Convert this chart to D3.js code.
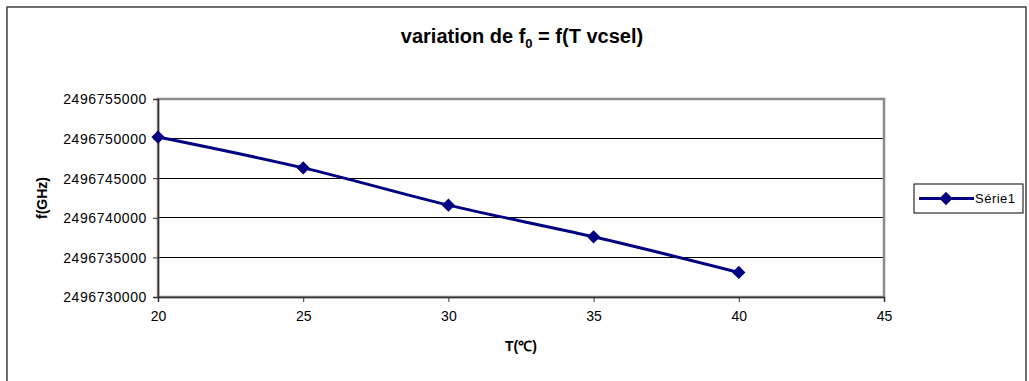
<!DOCTYPE html>
<html><head><meta charset="utf-8">
<script src="https://cdn.jsdelivr.net/npm/d3@7"></script>
<style>body{margin:0;background:#fff}svg{display:block;font-family:"Liberation Sans",Arial,sans-serif}</style>
</head><body>
<svg id="c" width="1029" height="381"></svg>
<script>
const temps = [20, 25, 30, 35, 40];
const freqs = [2496750200, 2496746300, 2496741600, 2496737600, 2496733100];
const xTicks = [20, 25, 30, 35, 40, 45];
const yTicks = [2496730000, 2496735000, 2496740000, 2496745000, 2496750000, 2496755000];
const seriesName = "Série1";

const svg = d3.select("#c");
const m = {left: 158, right: 884, top: 99, bottom: 297};
const navy = "#000080";

// outer frame
svg.append("rect").attr("x", 7).attr("y", 7).attr("width", 1019).attr("height", 380)
  .attr("fill", "#fff").attr("stroke", "#404040").attr("stroke-width", 1.5);

const x = d3.scaleLinear().domain([20, 45]).range([m.left, m.right]);
const y = d3.scaleLinear().domain([2496730000, 2496755000]).range([m.bottom, m.top]);

// gridlines
svg.append("g").selectAll("line").data(yTicks.slice(1, -1)).join("line")
  .attr("x1", m.left).attr("x2", m.right)
  .attr("y1", d => y(d)).attr("y2", d => y(d))
  .attr("stroke", "#000").attr("stroke-width", 1).attr("shape-rendering", "crispEdges");

// plot border (grey)
svg.append("rect").attr("x", m.left).attr("y", m.top)
  .attr("width", m.right - m.left).attr("height", m.bottom - m.top)
  .attr("fill", "none").attr("stroke", "#8c8c8c").attr("stroke-width", 2.5);

// axes
const yAxis = d3.axisLeft(y).tickValues(yTicks).tickSize(5).tickPadding(6).tickFormat(d3.format("d"));
const gy = svg.append("g").attr("transform", `translate(${m.left},0)`).call(yAxis);
const xAxis = d3.axisBottom(x).tickValues(xTicks).tickSize(5).tickPadding(9).tickFormat(d3.format("d"));
const gx = svg.append("g").attr("transform", `translate(0,${m.bottom})`).call(xAxis);
[gy, gx].forEach(g => {
  g.select(".domain").attr("stroke", "#333").attr("stroke-width", 1.5);
  g.selectAll(".tick line").attr("stroke", "#333");
  g.selectAll("text").attr("fill", "#000").attr("font-size", 14)
    .attr("font-family", "'Liberation Sans', Arial, sans-serif");
});
gy.selectAll("text").attr("letter-spacing", 0.6).attr("dy", "0.35em");

// line
const pts = temps.map((t, i) => [t, freqs[i]]);
svg.append("path").datum(pts)
  .attr("d", d3.line().x(d => x(d[0])).y(d => y(d[1])).curve(d3.curveCatmullRom))
  .attr("fill", "none").attr("stroke", navy).attr("stroke-width", 3);

const diamond = d3.symbol().type(d3.symbolSquare).size(88);
svg.append("g").selectAll("path").data(pts).join("path")
  .attr("d", diamond)
  .attr("transform", d => `translate(${x(d[0])},${y(d[1])}) rotate(45)`)
  .attr("fill", navy);

// title
const title = svg.append("text").attr("x", 522).attr("y", 43).attr("text-anchor", "middle")
  .attr("font-size", 20).attr("font-weight", "bold");
title.append("tspan").text("variation de f");
title.append("tspan").attr("font-size", 13).attr("dy", 5).text("0");
title.append("tspan").attr("dy", -5).text(" = f(T vcsel)");

// axis titles
svg.append("text").attr("x", 521).attr("y", 351).attr("text-anchor", "middle")
  .attr("font-size", 14).attr("font-weight", "bold").text("T(℃)");
svg.append("text").attr("transform", `translate(47,198) rotate(-90)`).attr("text-anchor", "middle")
  .attr("font-size", 14).attr("font-weight", "bold").text("f(GHz)");

// legend
const lg = svg.append("g");
lg.append("rect").attr("x", 914).attr("y", 184).attr("width", 109).attr("height", 29)
  .attr("fill", "#fff").attr("stroke", "#000").attr("stroke-width", 1);
lg.append("line").attr("x1", 919).attr("x2", 974).attr("y1", 198.5).attr("y2", 198.5)
  .attr("stroke", navy).attr("stroke-width", 3);
lg.append("path").attr("d", diamond).attr("transform", "translate(946,198.5) rotate(45)").attr("fill", navy);
lg.append("text").attr("x", 975).attr("y", 203).attr("font-size", 13).attr("letter-spacing", 0.5).text(seriesName);
</script>
</body></html>
